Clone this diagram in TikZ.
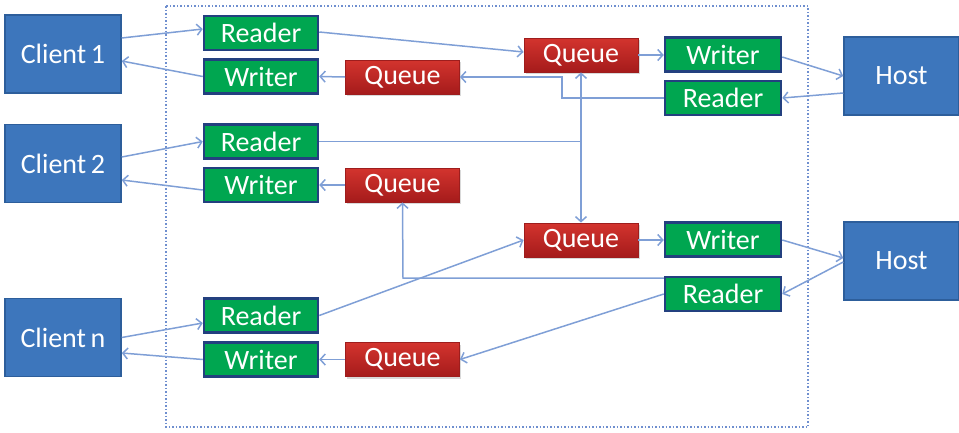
\documentclass[tikz,border=0pt]{standalone}
\usepackage{fontspec}
\setmainfont{Carlito}
\usetikzlibrary{arrows.meta,shadows}
\definecolor{clientblue}{HTML}{3D76BC}
\definecolor{clientedge}{HTML}{2D5E9B}
\definecolor{rwgreen}{HTML}{00A650}
\definecolor{rwedge}{HTML}{23407F}
\definecolor{qtop}{HTML}{D3342E}
\definecolor{qbot}{HTML}{A51B1B}
\definecolor{qedge}{HTML}{9E1D1D}
\definecolor{wire}{HTML}{7F9FD6}
\definecolor{frame}{HTML}{6F8FCF}
\begin{document}
\begin{tikzpicture}[x=1pt,y=-1pt,
  lbl/.style={text=white,font=\fontsize{28}{30}\selectfont,inner sep=0pt},
  endpoint/.style={lbl,rectangle,fill=clientblue,draw=clientedge,line width=1.5pt,
    minimum width=116pt,minimum height=78pt},
  rwbox/.style={lbl,rectangle,fill=rwgreen,draw=rwedge,line width=2.5pt,
    minimum width=114pt,minimum height=34pt},
  qbox/.style={lbl,rectangle,top color=qtop,bottom color=qbot,draw=qedge,line width=0.8pt,
    minimum width=114pt,minimum height=34pt,
    drop shadow={shadow xshift=1.5pt,shadow yshift=-2pt,opacity=0.3}},
  wire/.style={draw=wire,line width=1.5pt},
  flow/.style={wire,-{Straight Barb[length=5pt,width=11pt,line width=1.5pt]}},
  flows/.style={wire,{Straight Barb[length=5pt,width=11pt,line width=1.5pt]}-{Straight Barb[length=5pt,width=11pt,line width=1.5pt]}}]

\useasboundingbox (0,0) rectangle (959,432);

% proxy boundary
\draw[frame,line width=1.5pt,dotted] (166,6) rectangle (808,427);

% clients and hosts
\node[endpoint] (c1) at (63,54) {Client\,1};
\node[endpoint] (c2) at (63,163.5) {Client\,2};
\node[endpoint] (cn) at (63,337.5) {Client\,n};
\node[endpoint,minimum width=115pt] (h1) at (901.5,76) {Host};
\node[endpoint,minimum width=115pt] (h2) at (901.5,261) {Host};

% client-side readers and writers
\node[rwbox] (r1) at (261,33) {Reader};
\node[rwbox] (w1) at (261,76.5) {Writer};
\node[rwbox] (r2) at (261,141.5) {Reader};
\node[rwbox] (w2) at (261,185) {Writer};
\node[rwbox] (rn) at (261,315.5) {Reader};
\node[rwbox] (wn) at (261,359.5) {Writer};

% client-side queues
\node[qbox] (q1) at (402.5,77) {Queue};
\node[qbox] (q2) at (402.5,185) {Queue};
\node[qbox] (qn) at (402.5,359.5) {Queue};

% host-side queues
\node[qbox] (qr1) at (581,55) {Queue};
\node[qbox] (qr2) at (581,240) {Queue};

% host-side writers and readers
\node[rwbox,minimum width=116pt] (wr1) at (723,54.5) {Writer};
\node[rwbox,minimum width=116pt] (rr1) at (723,98) {Reader};
\node[rwbox,minimum width=116pt] (wr2) at (723,239.5) {Writer};
\node[rwbox,minimum width=116pt] (rr2) at (723,294) {Reader};

% junction points
\coordinate (j1) at (562,98);
\coordinate (j2) at (562,77);
\coordinate (j3) at (qr1.south |- r2.east);
\coordinate (j4) at (403,278);

% client 1
\draw[flow] ([yshift=16pt]c1.east) -- ([yshift=4pt]r1.west);
\draw[flow] (w1.west) -- ([yshift=-7pt]c1.east);
% client 2
\draw[flow] ([yshift=6.5pt]c2.east) -- (r2.west);
\draw[flow] ([yshift=-5pt]w2.west) -- ([yshift=-16.5pt]c2.east);
% client n
\draw[flow] (cn.east) -- ([yshift=-7.5pt]rn.west);
\draw[flow] (wn.west) -- ([yshift=-15.5pt]cn.east);

% writer feeds
\draw[flow] (q1.west) -- (w1.east);
\draw[flow] (q2.west) -- (w2.east);
\draw[flow] (qn.west) -- (wn.east);

% towards host 1
\draw[flow] ([yshift=1pt]r1.east) -- ([yshift=3pt]qr1.west);
\draw[flow] (qr1.east) -- ([yshift=-0.5pt]wr1.west);
\draw[flow] ([yshift=-2.5pt]wr1.east) -- (h1.west);
\draw[flow] ([yshift=-17pt]h1.west) -- (rr1.east);
\draw[flow] (rr1.west) -- (j1) -- (j2) -- (q1.east);

% client 2 reader splits to both host queues
\draw[wire] (r2.east) -- (j3);
\draw[flows] (qr1.south) -- (qr2.north);

% towards host 2
\draw[flow] (rn.east) -- (qr2.west);
\draw[flow] (qr2.east) -- ([yshift=-0.5pt]wr2.west);
\draw[flow] ([yshift=-0.5pt]wr2.east) -- ([yshift=3pt]h2.west);
\draw[flow] ([yshift=-1pt]h2.west) -- (rr2.east);
\draw[flow] ([yshift=16pt]rr2.west) -- (j4) -- (q2.south);
\draw[flow] (rr2.west) -- (qn.east);
\end{tikzpicture}
\end{document}
